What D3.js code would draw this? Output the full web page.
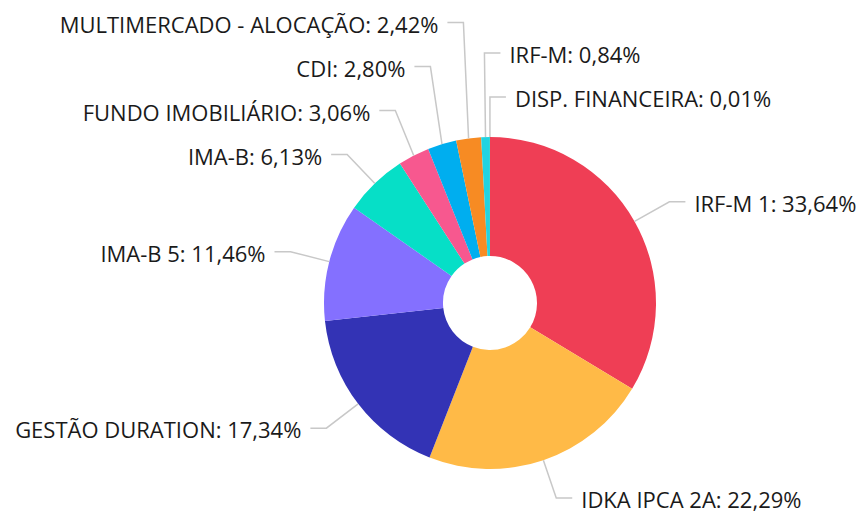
<!DOCTYPE html>
<html>
<head>
<meta charset="utf-8">
<script src="https://cdn.jsdelivr.net/npm/d3@7"></script>
<style>
    body { margin: 0; background: #fff; }
    text { font-family: 'Open Sans', sans-serif; font-size: 22px; fill: #1a1a1a; }
</style>
</head>
<body>
<svg width="859" height="513"></svg>
<script>
// Chart data
var categories = ['IRF-M 1', 'IDKA IPCA 2A', 'GESTÃO DURATION', 'IMA-B 5', 'IMA-B',
    'FUNDO IMOBILIÁRIO', 'CDI', 'MULTIMERCADO - ALOCAÇÃO', 'IRF-M', 'DISP. FINANCEIRA'];
var values = [33.64, 22.29, 17.34, 11.46, 6.13, 3.06, 2.80, 2.42, 0.84, 0.01];
var colors = ['#ef3e55', '#ffba47', '#3333b5', '#8470ff', '#06dfc7',
    '#f7588f', '#00aeef', '#f78b23', '#22d3e0', '#2ecc71'];

var svg = d3.select('svg');
var cx = 490, cy = 303;
var outerR = 166, innerR = 47;
var labelR = 206;   // radius where leader lines bend
var labelGap = 44;  // min vertical space between labels

var data = categories.map(function(c, i){
    return {name: c, value: values[i], color: colors[i]};
});

var pie = d3.pie().sort(null).value(function(d){ return d.value; });
var arcs = pie(data);

var arc = d3.arc().innerRadius(innerR).outerRadius(outerR);

var chartG = svg.append('g')
    .attr('transform', 'translate(' + [cx, cy] + ')');

chartG.selectAll('path.slice')
    .data(arcs)
    .enter()
    .append('path')
    .attr('class', 'slice')
    .attr('d', arc)
    .attr('fill', function(d){ return d.data.color; });

var formatPct = function(v) {
    return v.toFixed(2).replace('.', ',') + '%';
};

// Compute label anchor points
arcs.forEach(function(d){
    var mid = (d.startAngle + d.endAngle) / 2;
    d.mid = mid;
    d.sx = Math.sin(mid) * outerR;
    d.sy = -Math.cos(mid) * outerR;
    d.ex = Math.sin(mid) * labelR;
    d.ey = -Math.cos(mid) * labelR;
    d.right = Math.sin(mid) > -0.05;
    // angle measured so wrap-around near top sorts before the rest
    d.order = mid > Math.PI * 1.9 ? mid - 2 * Math.PI : mid;
});

// Right side: top to bottom by angle; left side: top to bottom by descending angle
var rightSide = arcs.filter(function(d){ return d.right; })
    .sort(function(a, b){ return a.order - b.order; });
var leftSide = arcs.filter(function(d){ return !d.right; })
    .sort(function(a, b){ return b.mid - a.mid; });

// Push labels upward from the bottom to avoid overlaps
[rightSide, leftSide].forEach(function(side){
    for (var i = side.length - 2; i >= 0; i--) {
        side[i].ey = Math.min(side[i].ey, side[i + 1].ey - labelGap);
    }
});

var labels = chartG.selectAll('g.label')
    .data(arcs)
    .enter()
    .append('g')
    .attr('class', 'label');

labels.append('polyline')
    .attr('fill', 'none')
    .attr('stroke', '#c8c8c8')
    .attr('stroke-width', 1.5)
    .attr('points', function(d){
        var hx = d.ex + (d.right ? 16 : -16);
        return [[d.sx, d.sy], [d.ex, d.ey], [hx, d.ey]].map(String).join(' ');
    });

labels.append('text')
    .attr('x', function(d){ return d.ex + (d.right ? 25 : -25); })
    .attr('y', function(d){ return d.ey + 10; })
    .attr('text-anchor', function(d){ return d.right ? 'start' : 'end'; })
    .text(function(d){ return d.data.name + ': ' + formatPct(d.data.value); });
</script>
</body>
</html>
